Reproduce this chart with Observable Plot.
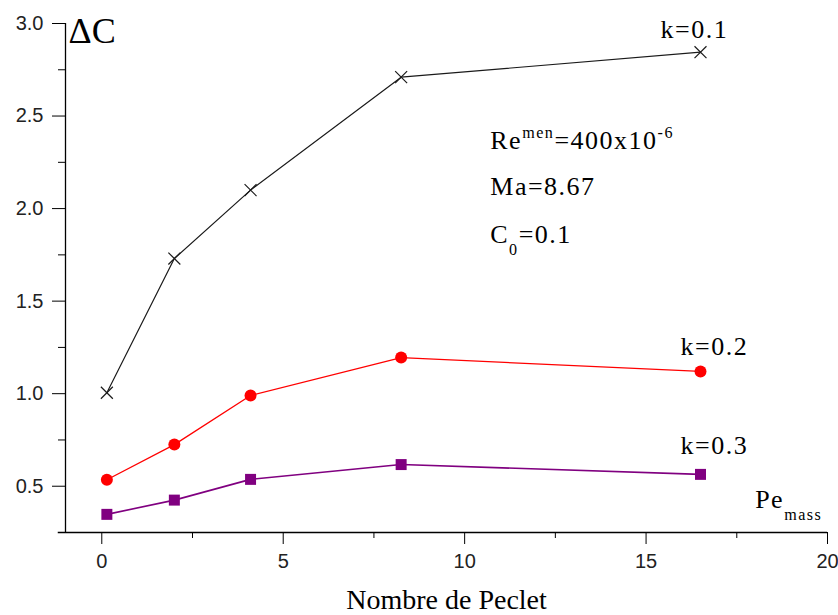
<!DOCTYPE html>
<html><head><meta charset="utf-8">
<script src="https://cdn.jsdelivr.net/npm/d3@7"></script>
<script src="https://cdn.jsdelivr.net/npm/@observablehq/plot@0.6"></script>
<style>
html,body{margin:0;padding:0;background:#fff;}
.sp text{letter-spacing:1.5px}
</style></head><body><div id="chart"></div>
<script>
// ---- data ----
const peclet = [0.14, 2.0, 4.1, 8.25, 16.5];
const dcK01 = [1.005, 1.73, 2.10, 2.71, 2.845];
const dcK02 = [0.535, 0.725, 0.99, 1.195, 1.12];
const dcK03 = [0.348, 0.425, 0.537, 0.617, 0.564];
const seriesNames = ["k=0.1", "k=0.2", "k=0.3"];
const xTicks = [0, 5, 10, 15, 20];
const xMinorTicks = [2.5, 7.5, 12.5, 17.5];
const yTicks = [0.5, 1.0, 1.5, 2.0, 2.5, 3.0];
const yMinorTicks = [0.75, 1.25, 1.75, 2.25, 2.75];
const xTitle = "Nombre de Peclet";
const yTitle = "ΔC";

const rows = (vals, k) => peclet.map((x, i) => ({x, y: vals[i], k}));
const s1 = rows(dcK01, seriesNames[0]);
const s2 = rows(dcK02, seriesNames[1]);
const s3 = rows(dcK03, seriesNames[2]);

const serif = "Liberation Serif, Times New Roman, serif";
const sans = "Liberation Sans, Arial, sans-serif";
const RED = "#ff0000", PURPLE = "#800080", BLACK = "#1a1a1a";

const chart = Plot.plot({
  width: 838, height: 615,
  marginLeft: 65, marginRight: 11, marginTop: 23, marginBottom: 83,
  style: {fontFamily: sans, fontSize: "20px", color: "black", background: "white"},
  x: {domain: [-1, 20], axis: null},
  y: {domain: [0.25, 3.0], axis: null},
  marks: [
    // axis lines
    Plot.ruleX([-1], {stroke: "black", strokeWidth: 1.3}),
    Plot.ruleY([0.25], {x1: -1.2, x2: 20, stroke: "black", strokeWidth: 1.3}),
    // ticks
    Plot.axisX({ticks: xTicks, tickSize: 12, tickPadding: 9, tickFormat: d3.format("d"), label: null, stroke: "black", fill: "#222", fontFamily: sans, fontSize: 20}),
    Plot.axisX({ticks: xMinorTicks, tickSize: 6, label: null, stroke: "black", fill: "none"}),
    Plot.axisY({ticks: yTicks, tickSize: 13, tickPadding: 9, tickFormat: d3.format(".1f"), label: null, stroke: "black", fill: "#222", fontFamily: sans, fontSize: 20}),
    Plot.axisY({ticks: yMinorTicks, tickSize: 7, label: null, stroke: "black", fill: "none"}),
    // series
    Plot.line(s1, {x: "x", y: "y", stroke: BLACK, strokeWidth: 1.2}),
    Plot.line(s2, {x: "x", y: "y", stroke: RED, strokeWidth: 1.3}),
    Plot.line(s3, {x: "x", y: "y", stroke: PURPLE, strokeWidth: 1.6}),
    Plot.dot(s1, {x: "x", y: "y", symbol: "times", r: 5.5, stroke: BLACK, strokeWidth: 1.2}),
    Plot.dot(s2, {x: "x", y: "y", symbol: "circle", r: 6, fill: RED, stroke: "none"}),
    Plot.dot(s3, {x: "x", y: "y", symbol: "square", r: 6.2, fill: PURPLE, stroke: "none"}),
    // curve labels near last points
    Plot.text(s1, Plot.selectLast({x: "x", y: "y", text: "k", dx: -40, dy: -14, textAnchor: "start", lineAnchor: "bottom", fontFamily: serif, fontSize: 26, fill: "black", className: "sp"})),
    Plot.text(s2, Plot.selectLast({x: "x", y: "y", text: "k", dx: -20, dy: -16, textAnchor: "start", lineAnchor: "bottom", fontFamily: serif, fontSize: 26, fill: "black", className: "sp"})),
    Plot.text(s3, Plot.selectLast({x: "x", y: "y", text: "k", dx: -20, dy: -20, textAnchor: "start", lineAnchor: "bottom", fontFamily: serif, fontSize: 26, fill: "black", className: "sp"})),
    // axis titles
    Plot.text([yTitle], {x: -1, y: 3.0, dx: 3, dy: -6, text: d => d, textAnchor: "start", lineAnchor: "top", fontFamily: serif, fontSize: 36, fill: "black"}),
    Plot.text([xTitle], {frameAnchor: "bottom", dy: 76, text: d => d, lineAnchor: "bottom", fontFamily: serif, fontSize: 28, fill: "black"})
  ]
});
document.getElementById("chart").appendChild(chart);

// rich annotations (superscripts / subscripts), positioned through Plot's scales
const sx = chart.scale("x"), sy = chart.scale("y");
const svg = d3.select(chart.tagName === "svg" ? chart : chart.querySelector("svg"));
function rich(x, y, parts, size) {
  const t = svg.append("text")
    .attr("x", sx.apply(x)).attr("y", sy.apply(y))
    .attr("text-anchor", "start")
    .attr("font-family", serif).attr("font-size", size)
    .attr("letter-spacing", "1.5px").attr("fill", "black");
  let shift = 0;
  for (const [s, kind] of parts) {
    const target = kind === "sup" ? -11 : kind === "sub" ? 12 : 0;
    t.append("tspan").attr("dy", target - shift)
      .attr("font-size", kind ? size * 0.62 : size).text(s);
    shift = target;
  }
}
rich(10.72, 2.321, [["Re"], ["men", "sup"], ["=400x10"], ["-6", "sup"]], 26);
rich(10.72, 2.069, [["Ma=8.67"]], 26);
rich(10.72, 1.809, [["C"], ["0", "sub"], ["=0.1"]], 26);
rich(18.02, 0.382, [["Pe"], ["mass", "sub"]], 26);
</script></body></html>
